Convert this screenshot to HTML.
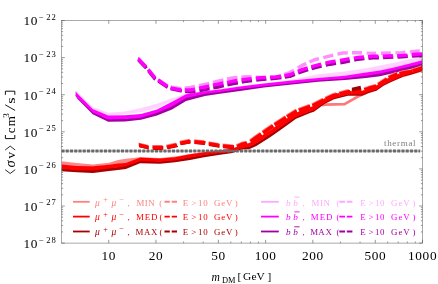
<!DOCTYPE html>
<html><head><meta charset="utf-8"><title>plot</title>
<style>html,body{margin:0;padding:0;background:#fff;}body{width:438px;height:284px;overflow:hidden;position:relative;font-family:"Liberation Serif",serif;}</style>
</head><body>
<svg width="438" height="284" viewBox="0 0 438 284" style="position:absolute;left:0;top:0;will-change:transform;filter:blur(0.25px);font-family:'Liberation Serif',serif">
<rect x="0" y="0" width="438" height="284" fill="#fff"/>
<defs><clipPath id="cp"><rect x="61.5" y="20.5" width="361.0" height="222.6"/></clipPath></defs>
<g clip-path="url(#cp)" fill="none" stroke-linejoin="round">
<polygon points="75.6,90.3 77.6,92.3 92.7,107.1 108.2,112.8 125.0,111.4 141.0,108.1 157.0,103.8 172.0,98.2 186.0,93.8 205.0,90.8 220.0,89.0 240.0,86.1 264.0,83.2 292.0,79.7 318.0,74.3 345.0,71.5 366.0,68.3 380.0,65.5 394.0,62.7 408.0,59.5 422.5,56.8 422.5,60.8 408.0,64.6 394.0,68.1 380.0,71.0 366.0,73.1 345.0,76.2 318.0,78.4 292.0,80.9 264.0,84.1 240.0,87.0 220.0,89.9 205.0,91.7 186.0,94.7 172.0,101.0 157.0,108.1 141.0,112.3 125.0,113.9 108.2,116.1 92.7,109.5 77.6,94.3 75.6,92.1" fill="#FFD2FF" stroke="none"/>
<polygon points="75.6,94.6 77.6,97.2 92.7,111.8 108.2,118.9 125.0,118.4 141.0,117.0 157.0,112.0 172.0,105.7 186.0,97.2 205.0,93.0 220.0,91.2 240.0,88.4 264.0,85.5 292.0,82.6 318.0,79.7 345.0,77.9 366.0,75.1 380.0,72.7 394.0,69.5 408.0,66.2 422.5,62.9 422.5,66.1 408.0,69.8 394.0,73.0 380.0,76.2 366.0,78.1 345.0,80.1 318.0,81.8 292.0,84.4 264.0,87.5 240.0,90.9 220.0,93.7 205.0,96.1 186.0,101.1 172.0,109.6 157.0,115.5 141.0,119.8 125.0,121.5 108.2,121.8 92.7,114.3 77.6,98.9 75.6,96.1" fill="#A000A0" stroke="none"/>
<polygon points="75.6,91.6 77.6,93.8 92.7,109.0 108.2,115.6 125.0,115.2 141.0,114.0 157.0,109.5 172.0,101.7 186.0,94.2 205.0,91.2 220.0,89.4 240.0,86.5 264.0,83.6 292.0,80.4 318.0,77.9 345.0,75.7 366.0,72.6 380.0,70.5 394.0,67.6 408.0,64.1 422.5,60.3 422.5,63.5 408.0,66.9 394.0,70.2 380.0,73.4 366.0,75.8 345.0,78.6 318.0,80.4 292.0,83.2 264.0,86.2 240.0,89.1 220.0,91.9 205.0,93.7 186.0,97.9 172.0,106.4 157.0,112.7 141.0,117.7 125.0,119.1 108.2,119.6 92.7,112.5 77.6,97.9 75.6,95.2" fill="#FF00FF" stroke="none"/>
<polyline points="138.2,58.6 138.3,58.6 146.0,66.6" stroke="#FF8EFF" stroke-width="3.4"/>
<polyline points="148.2,69.3 155.0,77.6 155.2,77.7" stroke="#FF8EFF" stroke-width="3.4"/>
<polyline points="158.1,79.6 167.3,85.6" stroke="#FF8EFF" stroke-width="3.4"/>
<polyline points="170.5,86.8 171.5,87.2 181.0,88.6 181.4,88.6" stroke="#FF8EFF" stroke-width="3.4"/>
<polyline points="184.8,88.2 190.5,87.5 195.0,86.5" stroke="#FF8EFF" stroke-width="3.4"/>
<polyline points="199.0,85.6 205.0,84.3 209.2,83.3" stroke="#FF8EFF" stroke-width="3.4"/>
<polyline points="212.9,82.4 218.0,81.2 223.4,80.0" stroke="#FF8EFF" stroke-width="3.4"/>
<polyline points="227.0,79.1 232.3,77.9 237.5,77.5" stroke="#FF8EFF" stroke-width="3.4"/>
<polyline points="241.4,77.2 246.6,76.8 251.6,77.0" stroke="#FF8EFF" stroke-width="3.4"/>
<polyline points="255.8,77.3 260.8,77.5 266.0,77.4" stroke="#FF8EFF" stroke-width="3.4"/>
<polyline points="270.0,77.4 275.7,77.3 281.0,75.5" stroke="#FF8EFF" stroke-width="3.4"/>
<polyline points="284.0,74.5 289.8,72.6 294.0,70.2" stroke="#FF8EFF" stroke-width="3.4"/>
<polyline points="297.8,67.9 302.7,65.1 306.3,63.5" stroke="#FF8EFF" stroke-width="3.4"/>
<polyline points="309.5,62.0 314.0,60.0 319.0,58.7" stroke="#FF8EFF" stroke-width="3.4"/>
<polyline points="323.3,57.6 330.4,55.8 333.2,55.1" stroke="#FF8EFF" stroke-width="3.4"/>
<polyline points="337.5,54.1 342.4,53.0 347.8,52.9" stroke="#FF8EFF" stroke-width="3.4"/>
<polyline points="352.0,52.8 358.0,52.6 362.0,52.8" stroke="#FF8EFF" stroke-width="3.4"/>
<polyline points="366.7,53.1 373.0,53.4 376.2,53.3" stroke="#FF8EFF" stroke-width="3.4"/>
<polyline points="380.9,53.2 390.8,53.0" stroke="#FF8EFF" stroke-width="3.4"/>
<polyline points="395.5,52.9 402.0,52.7 405.4,52.3" stroke="#FF8EFF" stroke-width="3.4"/>
<polyline points="409.9,51.9 416.3,51.2 419.8,51.0" stroke="#FF8EFF" stroke-width="3.4"/>
<polyline points="138.6,60.1 146.0,67.8 146.4,68.3" stroke="#A000A0" stroke-width="3.4"/>
<polyline points="148.6,71.0 155.0,78.8 155.6,79.2" stroke="#A000A0" stroke-width="3.4"/>
<polyline points="158.5,81.2 167.3,87.0 167.7,87.2" stroke="#A000A0" stroke-width="3.4"/>
<polyline points="170.9,88.5 171.5,88.8 181.0,90.8 181.8,90.9" stroke="#A000A0" stroke-width="3.4"/>
<polyline points="185.2,91.3 190.5,91.9 195.4,91.1" stroke="#A000A0" stroke-width="3.4"/>
<polyline points="199.4,90.5 205.0,89.6 209.6,88.7" stroke="#A000A0" stroke-width="3.4"/>
<polyline points="213.3,87.9 218.0,87.0 223.8,85.7" stroke="#A000A0" stroke-width="3.4"/>
<polyline points="227.4,84.9 232.3,83.8 237.9,82.8" stroke="#A000A0" stroke-width="3.4"/>
<polyline points="241.8,82.1 246.6,81.2 252.0,80.6" stroke="#A000A0" stroke-width="3.4"/>
<polyline points="256.2,80.1 260.8,79.5 266.4,79.1" stroke="#A000A0" stroke-width="3.4"/>
<polyline points="270.4,78.8 275.7,78.4 281.4,77.6" stroke="#A000A0" stroke-width="3.4"/>
<polyline points="284.8,77.0 289.8,76.3 294.8,74.4" stroke="#A000A0" stroke-width="3.4"/>
<polyline points="298.2,73.0 302.7,71.3 308.1,69.7" stroke="#A000A0" stroke-width="3.4"/>
<polyline points="311.6,68.7 316.2,67.4 321.6,66.2" stroke="#A000A0" stroke-width="3.4"/>
<polyline points="325.8,65.2 330.4,64.2 336.0,63.4" stroke="#A000A0" stroke-width="3.4"/>
<polyline points="340.3,62.7 344.5,62.1 349.9,60.9" stroke="#A000A0" stroke-width="3.4"/>
<polyline points="354.2,60.0 358.0,59.2 364.4,58.6" stroke="#A000A0" stroke-width="3.4"/>
<polyline points="368.5,58.3 373.0,57.9 378.9,57.7" stroke="#A000A0" stroke-width="3.4"/>
<polyline points="383.1,57.5 393.3,57.1" stroke="#A000A0" stroke-width="3.4"/>
<polyline points="397.6,57.0 402.0,56.8 407.8,56.4" stroke="#A000A0" stroke-width="3.4"/>
<polyline points="412.0,56.0 416.3,55.7 422.5,55.3 422.9,55.3" stroke="#A000A0" stroke-width="3.4"/>
<polyline points="138.2,59.0 138.3,59.0 146.0,67.0" stroke="#FF00FF" stroke-width="3.4"/>
<polyline points="148.2,69.7 155.0,78.0 155.2,78.1" stroke="#FF00FF" stroke-width="3.4"/>
<polyline points="158.1,80.0 167.3,86.4" stroke="#FF00FF" stroke-width="3.4"/>
<polyline points="170.5,87.8 171.5,88.2 181.0,90.0 181.4,90.0" stroke="#FF00FF" stroke-width="3.4"/>
<polyline points="184.8,90.0 190.5,90.0 195.0,89.1" stroke="#FF00FF" stroke-width="3.4"/>
<polyline points="199.0,88.2 205.0,87.0 209.2,86.1" stroke="#FF00FF" stroke-width="3.4"/>
<polyline points="212.9,85.2 218.0,84.1 223.4,83.0" stroke="#FF00FF" stroke-width="3.4"/>
<polyline points="227.0,82.3 232.3,81.3 237.5,80.5" stroke="#FF00FF" stroke-width="3.4"/>
<polyline points="241.4,79.9 246.6,79.1 251.6,78.6" stroke="#FF00FF" stroke-width="3.4"/>
<polyline points="255.8,78.2 260.8,77.7 266.0,77.5" stroke="#FF00FF" stroke-width="3.4"/>
<polyline points="270.0,77.3 275.7,77.0 281.0,76.2" stroke="#FF00FF" stroke-width="3.4"/>
<polyline points="284.4,75.6 289.8,74.8 294.4,72.8" stroke="#FF00FF" stroke-width="3.4"/>
<polyline points="297.8,71.4 302.7,69.3 307.7,67.9" stroke="#FF00FF" stroke-width="3.4"/>
<polyline points="311.2,66.8 316.2,65.4 321.2,64.2" stroke="#FF00FF" stroke-width="3.4"/>
<polyline points="325.4,63.2 330.4,62.0 335.6,61.1" stroke="#FF00FF" stroke-width="3.4"/>
<polyline points="339.9,60.4 344.5,59.6 349.5,58.8" stroke="#FF00FF" stroke-width="3.4"/>
<polyline points="353.8,58.1 358.0,57.4 364.0,57.0" stroke="#FF00FF" stroke-width="3.4"/>
<polyline points="368.1,56.7 373.0,56.3 378.5,56.2" stroke="#FF00FF" stroke-width="3.4"/>
<polyline points="382.7,56.1 392.9,55.8" stroke="#FF00FF" stroke-width="3.4"/>
<polyline points="397.2,55.7 402.0,55.6 407.4,55.1" stroke="#FF00FF" stroke-width="3.4"/>
<polyline points="411.6,54.7 416.3,54.3 422.5,53.9" stroke="#FF00FF" stroke-width="3.4"/>
<polygon points="61.5,161.3 76.6,163.1 93.0,164.5 109.2,162.7 118.0,160.1 125.8,158.7 140.0,157.2 160.0,158.0 175.0,156.5 190.0,154.0 204.0,151.9 218.5,150.1 232.6,148.5 242.0,144.3 249.0,143.0 256.3,139.1 270.5,129.7 284.7,119.7 296.0,112.6 310.0,107.4 313.9,105.6 324.5,98.2 334.0,94.1 348.0,90.7 362.0,90.7 369.0,87.7 376.5,85.4 383.6,80.1 390.7,76.9 397.0,74.3 404.0,71.6 411.4,69.4 418.5,67.3 422.5,65.9 422.5,66.6 418.5,68.0 411.4,70.1 404.0,72.3 397.0,75.0 390.7,77.6 383.6,80.8 376.5,86.1 369.0,88.4 362.0,91.4 348.0,91.4 334.0,94.8 324.5,98.9 313.9,106.3 310.0,108.1 296.0,113.3 284.7,120.4 270.5,130.4 256.3,139.8 249.0,143.7 242.0,145.0 232.6,149.2 218.5,150.9 204.0,152.7 190.0,154.8 175.0,157.7 160.0,158.9 140.0,158.0 125.8,163.4 118.0,164.1 109.2,165.3 93.0,166.7 76.6,166.5 61.5,165.0" fill="#FF8888" stroke="none"/>
<polyline points="322.0,105.2 325.5,104.6 344.6,104.2 358.0,96.5 366.0,92.8" stroke="#FF7878" stroke-width="2.7"/>
<polyline points="404.0,76.3 411.4,74.1 418.5,72.0 422.5,70.8" stroke="#FF8888" stroke-width="1.6"/>
<polygon points="61.5,168.4 76.6,169.5 93.0,169.5 109.2,167.8 118.0,166.9 125.8,165.5 140.0,160.5 160.0,161.2 175.0,159.8 190.0,156.9 204.0,154.7 218.5,152.6 232.6,151.2 242.0,147.5 249.0,146.4 256.3,142.9 270.5,133.7 284.7,123.7 296.0,116.3 310.0,110.9 313.9,109.5 324.5,102.1 334.0,97.5 348.0,93.9 362.0,93.9 369.0,91.1 376.5,89.0 383.6,84.0 390.7,80.5 397.0,77.8 404.0,75.0 411.4,72.8 418.5,70.7 422.5,69.3 422.5,71.1 418.5,72.3 411.4,74.4 404.0,76.6 397.0,79.4 390.7,82.3 383.6,85.8 376.5,90.8 369.0,92.9 362.0,95.7 348.0,95.7 334.0,99.3 324.5,103.9 313.9,111.7 310.0,113.1 296.0,118.8 284.7,127.0 270.5,136.9 256.3,146.1 249.0,149.2 242.0,149.6 232.6,153.1 218.5,155.1 204.0,157.3 190.0,160.1 175.0,162.3 160.0,163.7 140.0,163.3 125.8,169.0 118.0,170.1 109.2,170.9 93.0,173.1 76.6,172.3 61.5,171.3" fill="#A80000" stroke="none"/>
<polygon points="61.5,164.5 76.6,166.0 93.0,166.2 109.2,164.8 118.0,163.6 125.8,162.9 140.0,157.5 160.0,158.4 175.0,157.2 190.0,154.3 204.0,152.2 218.5,150.4 232.6,148.7 242.0,144.5 249.0,143.2 256.3,139.3 270.5,129.9 284.7,119.9 296.0,112.8 310.0,107.6 313.9,105.8 324.5,98.4 334.0,94.3 348.0,90.9 362.0,90.9 369.0,87.9 376.5,85.6 383.6,80.3 390.7,77.1 397.0,74.5 404.0,71.8 411.4,69.6 418.5,67.5 422.5,66.1 422.5,70.0 418.5,71.4 411.4,73.5 404.0,75.7 397.0,78.5 390.7,81.2 383.6,84.7 376.5,89.7 369.0,91.8 362.0,94.6 348.0,94.6 334.0,98.2 324.5,102.8 313.9,110.2 310.0,111.6 296.0,117.0 284.7,124.4 270.5,134.3 256.3,143.6 249.0,147.1 242.0,148.2 232.6,151.8 218.5,153.2 204.0,155.3 190.0,157.6 175.0,160.5 160.0,161.8 140.0,161.2 125.8,166.2 118.0,167.6 109.2,168.5 93.0,170.2 76.6,170.2 61.5,169.1" fill="#FF0000" stroke="none"/>
<line x1="61.5" y1="151.0" x2="420.2" y2="151.0" stroke="#909090" stroke-width="0.9"/>
<line x1="61.5" y1="151.0" x2="420.2" y2="151.0" stroke="#6a6a6a" stroke-width="2.8" stroke-dasharray="3 1.25"/>
<polyline points="139.3,145.6 139.5,145.6 148.0,147.6 148.7,147.6" stroke="#A80000" stroke-width="3.6"/>
<polyline points="153.0,147.9 156.0,148.1 163.0,147.9 163.3,147.9" stroke="#A80000" stroke-width="3.6"/>
<polyline points="167.2,147.6 176.8,145.4 177.1,145.2" stroke="#A80000" stroke-width="3.6"/>
<polyline points="180.5,143.5 190.2,141.8 190.5,141.8" stroke="#A80000" stroke-width="3.6"/>
<polyline points="194.7,142.2 205.0,143.2 205.3,143.3" stroke="#A80000" stroke-width="3.6"/>
<polyline points="209.2,144.2 219.2,145.9 219.5,145.9" stroke="#A80000" stroke-width="3.6"/>
<polyline points="223.3,146.4 233.8,147.4 234.1,147.4" stroke="#A80000" stroke-width="3.6"/>
<polyline points="138.5,144.3 139.0,144.3 147.5,146.3 147.7,146.3" stroke="#FF8080" stroke-width="3.4"/>
<polyline points="152.2,146.6 155.5,146.8 162.3,146.6" stroke="#FF8080" stroke-width="3.4"/>
<polyline points="166.4,146.4 176.1,144.1" stroke="#FF8080" stroke-width="3.4"/>
<polyline points="179.7,142.3 189.5,140.5" stroke="#FF8080" stroke-width="3.4"/>
<polyline points="193.9,140.9 204.3,141.9" stroke="#FF8080" stroke-width="3.4"/>
<polyline points="208.4,142.8 218.5,144.6" stroke="#FF8080" stroke-width="3.4"/>
<polyline points="222.5,145.1 233.1,146.1" stroke="#FF8080" stroke-width="3.4"/>
<polyline points="236.7,145.7 241.5,143.5 246.4,142.5" stroke="#FF8080" stroke-width="3.4"/>
<polyline points="250.2,140.8 255.8,136.7 260.6,133.4" stroke="#FF8080" stroke-width="3.4"/>
<polyline points="262.6,132.0 270.0,126.9 272.6,125.2" stroke="#FF8080" stroke-width="3.4"/>
<polyline points="274.2,124.1 284.2,117.6 285.4,116.9" stroke="#FF8080" stroke-width="3.4"/>
<polyline points="286.7,116.1 295.5,110.7 296.2,110.5" stroke="#FF8080" stroke-width="3.4"/>
<polyline points="298.5,109.6 309.5,105.6 309.6,105.6" stroke="#FF8080" stroke-width="3.4"/>
<polyline points="312.0,104.8 313.4,104.3 323.1,99.3" stroke="#FF8080" stroke-width="3.4"/>
<polyline points="325.4,98.2 333.5,94.6 336.5,93.8" stroke="#FF8080" stroke-width="3.4"/>
<polyline points="339.0,93.2 347.5,91.0 349.3,90.9" stroke="#FF8080" stroke-width="3.4"/>
<polyline points="351.6,90.8 360.8,90.3" stroke="#FF8080" stroke-width="3.4"/>
<polyline points="364.0,89.2 368.5,87.5 375.8,85.6" stroke="#FF8080" stroke-width="3.4"/>
<polyline points="378.0,84.1 383.1,80.6 386.5,78.5" stroke="#FF8080" stroke-width="3.4"/>
<polyline points="388.5,77.3 390.2,76.3 396.5,73.4 396.8,73.3" stroke="#FF8080" stroke-width="3.4"/>
<polyline points="399.0,72.8 403.5,71.9 409.3,70.8" stroke="#FF8080" stroke-width="3.4"/>
<polyline points="412.0,70.1 418.0,68.3 421.8,66.8" stroke="#FF8080" stroke-width="3.4"/>
<polyline points="139.0,145.2 139.5,145.2 148.0,147.2 148.4,147.2" stroke="#FF0000" stroke-width="3.7"/>
<polyline points="152.7,147.5 156.0,147.7 163.0,147.5" stroke="#FF0000" stroke-width="3.7"/>
<polyline points="166.9,147.3 176.8,145.0" stroke="#FF0000" stroke-width="3.7"/>
<polyline points="180.2,143.2 190.2,141.4" stroke="#FF0000" stroke-width="3.7"/>
<polyline points="194.4,141.8 205.0,142.8" stroke="#FF0000" stroke-width="3.7"/>
<polyline points="208.9,143.7 219.2,145.5" stroke="#FF0000" stroke-width="3.7"/>
<polyline points="223.0,146.0 233.8,147.0" stroke="#FF0000" stroke-width="3.7"/>
<polyline points="237.2,146.6 242.0,144.4 247.1,143.4" stroke="#FF0000" stroke-width="3.7"/>
<polyline points="250.7,141.7 256.3,137.6 261.3,134.2" stroke="#FF0000" stroke-width="3.7"/>
<polyline points="263.1,132.9 270.5,127.8 273.3,126.0" stroke="#FF0000" stroke-width="3.7"/>
<polyline points="274.7,125.0 284.7,118.5 286.1,117.6" stroke="#FF0000" stroke-width="3.7"/>
<polyline points="287.2,117.0 296.0,111.6 296.9,111.3" stroke="#FF0000" stroke-width="3.7"/>
<polyline points="299.0,110.5 310.0,106.5 310.3,106.4" stroke="#FF0000" stroke-width="3.7"/>
<polyline points="312.5,105.7 313.9,105.2 323.8,100.1" stroke="#FF0000" stroke-width="3.7"/>
<polyline points="325.9,99.1 334.0,95.5 337.2,94.7" stroke="#FF0000" stroke-width="3.7"/>
<polyline points="339.5,94.1 348.0,91.9 350.0,91.8" stroke="#FF0000" stroke-width="3.7"/>
<polyline points="352.1,91.7 361.5,91.1" stroke="#FF0000" stroke-width="3.7"/>
<polyline points="364.5,90.1 369.0,88.4 376.5,86.4" stroke="#FF0000" stroke-width="3.7"/>
<polyline points="378.5,85.0 383.6,81.5 387.2,79.3" stroke="#FF0000" stroke-width="3.7"/>
<polyline points="389.0,78.2 390.7,77.2 397.0,74.3 397.5,74.2" stroke="#FF0000" stroke-width="3.7"/>
<polyline points="399.5,73.7 404.0,72.8 410.0,71.7" stroke="#FF0000" stroke-width="3.7"/>
<polyline points="412.5,71.0 418.5,69.2 422.5,67.6" stroke="#FF0000" stroke-width="3.7"/>
<polyline points="352.1,89.6 360.9,87.7" stroke="#A00000" stroke-width="3.8"/>
</g>
<rect x="61.5" y="20.5" width="361.0" height="222.6" fill="none" stroke="#707070" stroke-width="0.6"/>
<path d="M61.5 243.10h3.3 M422.5 243.10h-3.3 M61.5 231.93h1.6 M422.5 231.93h-1.6 M61.5 225.40h1.6 M422.5 225.40h-1.6 M61.5 220.76h1.6 M422.5 220.76h-1.6 M61.5 217.17h1.6 M422.5 217.17h-1.6 M61.5 214.23h1.6 M422.5 214.23h-1.6 M61.5 211.75h1.6 M422.5 211.75h-1.6 M61.5 209.60h1.6 M422.5 209.60h-1.6 M61.5 207.70h1.6 M422.5 207.70h-1.6 M61.5 206.00h3.3 M422.5 206.00h-3.3 M61.5 194.83h1.6 M422.5 194.83h-1.6 M61.5 188.30h1.6 M422.5 188.30h-1.6 M61.5 183.66h1.6 M422.5 183.66h-1.6 M61.5 180.07h1.6 M422.5 180.07h-1.6 M61.5 177.13h1.6 M422.5 177.13h-1.6 M61.5 174.65h1.6 M422.5 174.65h-1.6 M61.5 172.50h1.6 M422.5 172.50h-1.6 M61.5 170.60h1.6 M422.5 170.60h-1.6 M61.5 168.90h3.3 M422.5 168.90h-3.3 M61.5 157.73h1.6 M422.5 157.73h-1.6 M61.5 151.20h1.6 M422.5 151.20h-1.6 M61.5 146.56h1.6 M422.5 146.56h-1.6 M61.5 142.97h1.6 M422.5 142.97h-1.6 M61.5 140.03h1.6 M422.5 140.03h-1.6 M61.5 137.55h1.6 M422.5 137.55h-1.6 M61.5 135.40h1.6 M422.5 135.40h-1.6 M61.5 133.50h1.6 M422.5 133.50h-1.6 M61.5 131.80h3.3 M422.5 131.80h-3.3 M61.5 120.63h1.6 M422.5 120.63h-1.6 M61.5 114.10h1.6 M422.5 114.10h-1.6 M61.5 109.46h1.6 M422.5 109.46h-1.6 M61.5 105.87h1.6 M422.5 105.87h-1.6 M61.5 102.93h1.6 M422.5 102.93h-1.6 M61.5 100.45h1.6 M422.5 100.45h-1.6 M61.5 98.30h1.6 M422.5 98.30h-1.6 M61.5 96.40h1.6 M422.5 96.40h-1.6 M61.5 94.70h3.3 M422.5 94.70h-3.3 M61.5 83.53h1.6 M422.5 83.53h-1.6 M61.5 77.00h1.6 M422.5 77.00h-1.6 M61.5 72.36h1.6 M422.5 72.36h-1.6 M61.5 68.77h1.6 M422.5 68.77h-1.6 M61.5 65.83h1.6 M422.5 65.83h-1.6 M61.5 63.35h1.6 M422.5 63.35h-1.6 M61.5 61.20h1.6 M422.5 61.20h-1.6 M61.5 59.30h1.6 M422.5 59.30h-1.6 M61.5 57.60h3.3 M422.5 57.60h-3.3 M61.5 46.43h1.6 M422.5 46.43h-1.6 M61.5 39.90h1.6 M422.5 39.90h-1.6 M61.5 35.26h1.6 M422.5 35.26h-1.6 M61.5 31.67h1.6 M422.5 31.67h-1.6 M61.5 28.73h1.6 M422.5 28.73h-1.6 M61.5 26.25h1.6 M422.5 26.25h-1.6 M61.5 24.10h1.6 M422.5 24.10h-1.6 M61.5 22.20h1.6 M422.5 22.20h-1.6 M61.5 20.50h3.3 M422.5 20.50h-3.3 M108.73 243.1v-3.3 M108.73 20.5v3.3 M155.95 243.1v-3.3 M155.95 20.5v3.3 M183.58 243.1v-1.6 M183.58 20.5v1.6 M203.18 243.1v-1.6 M203.18 20.5v1.6 M218.39 243.1v-3.3 M218.39 20.5v3.3 M230.81 243.1v-1.6 M230.81 20.5v1.6 M241.31 243.1v-1.6 M241.31 20.5v1.6 M250.41 243.1v-1.6 M250.41 20.5v1.6 M258.44 243.1v-1.6 M258.44 20.5v1.6 M265.61 243.1v-3.3 M265.61 20.5v3.3 M312.84 243.1v-3.3 M312.84 20.5v3.3 M340.47 243.1v-1.6 M340.47 20.5v1.6 M360.07 243.1v-1.6 M360.07 20.5v1.6 M375.27 243.1v-3.3 M375.27 20.5v3.3 M387.69 243.1v-1.6 M387.69 20.5v1.6 M398.20 243.1v-1.6 M398.20 20.5v1.6 M407.30 243.1v-1.6 M407.30 20.5v1.6 M415.32 243.1v-1.6 M415.32 20.5v1.6 M422.50 243.1v-3.3 M422.50 20.5v3.3" stroke="#555" stroke-width="0.6" fill="none"/>
<text x="23.4" y="247.9" font-size="13.3" fill="#000" letter-spacing="0.7">10<tspan dy="-5.4" font-size="8.6" letter-spacing="0.6" dx="0.9">−</tspan><tspan font-size="8.6" letter-spacing="0.9" dx="1.8">28</tspan></text>
<text x="23.4" y="210.8" font-size="13.3" fill="#000" letter-spacing="0.7">10<tspan dy="-5.4" font-size="8.6" letter-spacing="0.6" dx="0.9">−</tspan><tspan font-size="8.6" letter-spacing="0.9" dx="1.8">27</tspan></text>
<text x="23.4" y="173.7" font-size="13.3" fill="#000" letter-spacing="0.7">10<tspan dy="-5.4" font-size="8.6" letter-spacing="0.6" dx="0.9">−</tspan><tspan font-size="8.6" letter-spacing="0.9" dx="1.8">26</tspan></text>
<text x="23.4" y="136.6" font-size="13.3" fill="#000" letter-spacing="0.7">10<tspan dy="-5.4" font-size="8.6" letter-spacing="0.6" dx="0.9">−</tspan><tspan font-size="8.6" letter-spacing="0.9" dx="1.8">25</tspan></text>
<text x="23.4" y="99.5" font-size="13.3" fill="#000" letter-spacing="0.7">10<tspan dy="-5.4" font-size="8.6" letter-spacing="0.6" dx="0.9">−</tspan><tspan font-size="8.6" letter-spacing="0.9" dx="1.8">24</tspan></text>
<text x="23.4" y="62.4" font-size="13.3" fill="#000" letter-spacing="0.7">10<tspan dy="-5.4" font-size="8.6" letter-spacing="0.6" dx="0.9">−</tspan><tspan font-size="8.6" letter-spacing="0.9" dx="1.8">23</tspan></text>
<text x="23.4" y="25.3" font-size="13.3" fill="#000" letter-spacing="0.7">10<tspan dy="-5.4" font-size="8.6" letter-spacing="0.6" dx="0.9">−</tspan><tspan font-size="8.6" letter-spacing="0.9" dx="1.8">22</tspan></text>
<text x="108.8" y="259.6" font-size="13.3" text-anchor="middle" fill="#000" letter-spacing="0.7">10</text>
<text x="156.1" y="259.6" font-size="13.3" text-anchor="middle" fill="#000" letter-spacing="0.7">20</text>
<text x="218.5" y="259.6" font-size="13.3" text-anchor="middle" fill="#000" letter-spacing="0.7">50</text>
<text x="265.7" y="259.6" font-size="13.3" text-anchor="middle" fill="#000" letter-spacing="0.7">100</text>
<text x="312.9" y="259.6" font-size="13.3" text-anchor="middle" fill="#000" letter-spacing="0.7">200</text>
<text x="375.4" y="259.6" font-size="13.3" text-anchor="middle" fill="#000" letter-spacing="0.7">500</text>
<text x="422.6" y="259.6" font-size="13.3" text-anchor="middle" fill="#000" letter-spacing="0.7">1000</text>
<text x="211.6" y="280.5" font-size="11.6" font-style="italic" fill="#000">m</text>
<text x="221.9" y="282.6" font-size="8.4" fill="#000">DM</text>
<text x="237.4" y="280.3" font-size="11.3" fill="#000">[</text>
<text x="243.0 251.5 256.4" y="280.4" font-size="11.4" fill="#000">GeV</text>
<text x="267.6" y="280.3" font-size="11.3" fill="#000">]</text>
<g transform="translate(14.9,174) rotate(-90)" fill="#000" font-size="13">
<path d="M4.3 -9.7 L0.5 -4.7 L4.3 0.3 M24.0 -9.7 L27.9 -4.7 L24.0 0.3" fill="none" stroke="#111" stroke-width="0.9"/>
<text x="6.6" y="0" font-style="italic" font-size="14.5">σ</text>
<text x="15.5" y="0">v</text>
<path d="M39.0 -9.5 H35.4 V-0.1 H39.0 M79.2 -9.5 H82.8 V-0.1 H79.2" fill="none" stroke="#111" stroke-width="1"/>
<text x="40.7 47.7" y="0">cm</text>
<text x="56.2" y="-6.2" font-size="9.2">3</text>
<path d="M63.6 0.2 L69.2 -9.7" fill="none" stroke="#111" stroke-width="0.95"/>
<text transform="translate(70.3,0) scale(1.22,1)" x="0" y="0" font-size="13.5">s</text>
</g>
<text x="384" y="146.3" font-size="9" fill="#808080" letter-spacing="0.68">thermal</text>
<line x1="73" x2="89.7" y1="201.8" y2="201.8" stroke="#FF8080" stroke-width="1.8"/>
<text x="94.9" y="205.5" font-size="9.5" fill="#FF8080" font-style="italic">μ</text>
<text x="103.2" y="202.1" font-size="8.0" fill="#FF8080">+</text>
<text x="111.4" y="205.5" font-size="9.5" fill="#FF8080" font-style="italic">μ</text>
<text x="119.2" y="201.7" font-size="8.0" fill="#FF8080">−</text>
<text x="127.6" y="205.5" font-size="8.9" fill="#FF8080">,</text>
<text x="136.5 144.7 148.3" y="205.5" font-size="8.9" fill="#FF8080">MIN</text>
<text x="159.2" y="205.5" font-size="8.9" fill="#FF8080">(</text>
<line x1="164.5" x2="177" y1="201.8" y2="201.8" stroke="#FF8080" stroke-width="1.9" stroke-dasharray="5.3 1.9"/>
<text x="182.7 191.3 198.0 203.3 214.0 221.2 226.0 234.8" y="205.5" font-size="8.9" fill="#FF8080">E&gt;10GeV)</text>
<line x1="261" x2="278.8" y1="201.8" y2="201.8" stroke="#FFA8FF" stroke-width="1.8"/>
<text x="286.1 293.3" y="205.5" font-size="9.200000000000001" fill="#FFA8FF" font-style="italic">bb</text>
<line x1="294.3" x2="299.6" y1="197.10000000000002" y2="197.10000000000002" stroke="#FFA8FF" stroke-width="0.9"/>
<text x="302.6" y="205.5" font-size="8.9" fill="#FFA8FF">,</text>
<text x="311.6 320.1 323.5" y="205.5" font-size="8.9" fill="#FFA8FF">MIN</text>
<text x="336.5" y="205.5" font-size="8.9" fill="#FFA8FF">(</text>
<line x1="339.3" x2="352.4" y1="201.8" y2="201.8" stroke="#FFA8FF" stroke-width="1.9" stroke-dasharray="5.7 1.8"/>
<text x="360.2 368.4 375.1 380.0 391.1 398.4 403.2 412.6" y="205.5" font-size="8.9" fill="#FFA8FF">E&gt;10GeV)</text>
<line x1="73" x2="89.7" y1="216.6" y2="216.6" stroke="#FF0000" stroke-width="1.8"/>
<text x="94.9" y="220.3" font-size="9.5" fill="#FF0000" font-style="italic">μ</text>
<text x="103.2" y="216.9" font-size="8.0" fill="#FF0000">+</text>
<text x="111.4" y="220.3" font-size="9.5" fill="#FF0000" font-style="italic">μ</text>
<text x="119.2" y="216.5" font-size="8.0" fill="#FF0000">−</text>
<text x="127.6" y="220.3" font-size="8.9" fill="#FF0000">,</text>
<text x="135.9 144.8 151.0" y="220.3" font-size="8.9" fill="#FF0000">MED</text>
<text x="159.6" y="220.3" font-size="8.9" fill="#FF0000">(</text>
<line x1="164.5" x2="177" y1="216.6" y2="216.6" stroke="#FF0000" stroke-width="1.9" stroke-dasharray="5.3 1.9"/>
<text x="182.7 191.3 198.0 203.3 214.0 221.2 226.0 234.8" y="220.3" font-size="8.9" fill="#FF0000">E&gt;10GeV)</text>
<line x1="261" x2="278.8" y1="216.6" y2="216.6" stroke="#FF00FF" stroke-width="1.8"/>
<text x="286.1 293.3" y="220.3" font-size="9.200000000000001" fill="#FF00FF" font-style="italic">bb</text>
<line x1="294.3" x2="299.6" y1="211.9" y2="211.9" stroke="#FF00FF" stroke-width="0.9"/>
<text x="302.6" y="220.3" font-size="8.9" fill="#FF00FF">,</text>
<text x="310.8 319.7 326.1" y="220.3" font-size="8.9" fill="#FF00FF">MED</text>
<text x="336.5" y="220.3" font-size="8.9" fill="#FF00FF">(</text>
<line x1="339.3" x2="352.4" y1="216.6" y2="216.6" stroke="#FF00FF" stroke-width="1.9" stroke-dasharray="5.7 1.8"/>
<text x="360.2 368.4 375.1 380.0 391.1 398.4 403.2 412.6" y="220.3" font-size="8.9" fill="#FF00FF">E&gt;10GeV)</text>
<line x1="73" x2="89.7" y1="231.5" y2="231.5" stroke="#A80000" stroke-width="1.8"/>
<text x="94.9" y="235.2" font-size="9.5" fill="#A80000" font-style="italic">μ</text>
<text x="103.2" y="231.8" font-size="8.0" fill="#A80000">+</text>
<text x="111.4" y="235.2" font-size="9.5" fill="#A80000" font-style="italic">μ</text>
<text x="119.2" y="231.4" font-size="8.0" fill="#A80000">−</text>
<text x="127.6" y="235.2" font-size="8.9" fill="#A80000">,</text>
<text x="135.4 143.9 151.0" y="235.2" font-size="8.9" fill="#A80000">MAX</text>
<text x="159.6" y="235.2" font-size="8.9" fill="#A80000">(</text>
<line x1="164.5" x2="177" y1="231.5" y2="231.5" stroke="#A80000" stroke-width="1.9" stroke-dasharray="5.3 1.9"/>
<text x="182.7 191.3 198.0 203.3 214.0 221.2 226.0 234.8" y="235.2" font-size="8.9" fill="#A80000">E&gt;10GeV)</text>
<line x1="261" x2="278.8" y1="231.5" y2="231.5" stroke="#A000A0" stroke-width="1.8"/>
<text x="286.1 293.3" y="235.2" font-size="9.200000000000001" fill="#A000A0" font-style="italic">bb</text>
<line x1="294.3" x2="299.6" y1="226.8" y2="226.8" stroke="#A000A0" stroke-width="0.9"/>
<text x="302.6" y="235.2" font-size="8.9" fill="#A000A0">,</text>
<text x="310.2 318.3 325.6" y="235.2" font-size="8.9" fill="#A000A0">MAX</text>
<text x="336.5" y="235.2" font-size="8.9" fill="#A000A0">(</text>
<line x1="339.3" x2="352.4" y1="231.5" y2="231.5" stroke="#A000A0" stroke-width="1.9" stroke-dasharray="5.7 1.8"/>
<text x="360.2 368.4 375.1 380.0 391.1 398.4 403.2 412.6" y="235.2" font-size="8.9" fill="#A000A0">E&gt;10GeV)</text>
</svg>
</body></html>
